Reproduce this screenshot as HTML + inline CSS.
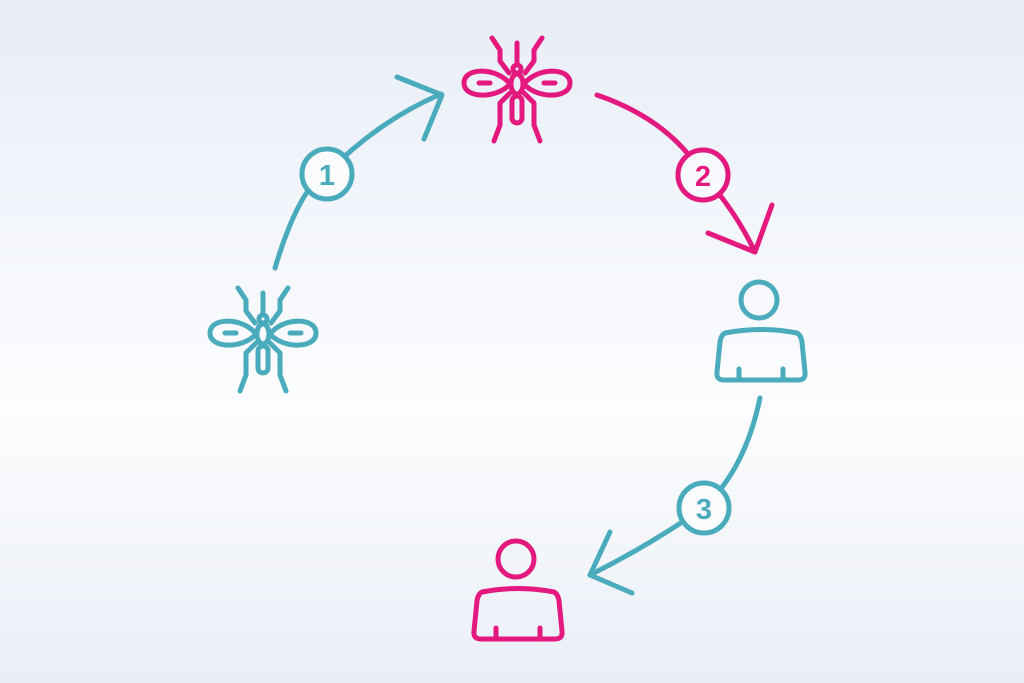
<!DOCTYPE html>
<html><head><style>
html,body{margin:0;padding:0}
body{width:1024px;height:683px;overflow:hidden;background:linear-gradient(#e8edf6 0%,#f7f9fd 45%,#fcfdfe 60%,#eaeef6 100%)}
svg{display:block}
text{font-family:"Liberation Sans",sans-serif;font-weight:bold;font-size:29px}
</style></head><body>
<svg width="1024" height="683" viewBox="0 0 1024 683">
<defs>
<g id="mq" fill="none" stroke-width="5" stroke-linecap="round" stroke-linejoin="round">
  <circle cx="0" cy="-14" r="4"/>
  <ellipse cx="0" cy="1" rx="6" ry="10"/>
  <rect x="-5" y="13" width="10" height="27" rx="5"/>
  <line x1="0" y1="-19" x2="0" y2="-40"/>
  <path d="M-7,1 C-20,-16 -53,-16 -53,0 C-53,16 -20,16 -7,1Z"/>
  <path d="M7,1 C20,-16 53,-16 53,0 C53,16 20,16 7,1Z"/>
  <line x1="-38" y1="0" x2="-27" y2="0"/>
  <line x1="27" y1="0" x2="38" y2="0"/>
  <path d="M-8,-10 L-17,-22 L-17,-33 L-25,-45"/>
  <path d="M8,-10 L17,-22 L17,-33 L25,-45"/>
  <path d="M-7,10 L-17,20 L-17,42 L-23,58"/>
  <path d="M7,10 L17,20 L17,42 L23,58"/>
  <g stroke="none"><circle cx="0" cy="20" r="2.2"/><circle cx="0" cy="27" r="2.2"/><circle cx="0" cy="34" r="2.2"/></g>
</g>
<g id="pp" fill="none" stroke-width="5" stroke-linecap="round" stroke-linejoin="round">
  <circle cx="-2" cy="-32" r="18"/>
  <path d="M-36,1 Q0,-6 36,1 Q40,3 41,10 L44,40 Q45,48 37,48 L-37,48 Q-45,48 -44,40 L-41,10 Q-40,3 -36,1 Z"/>
  <line x1="-22" y1="37" x2="-22" y2="48"/>
  <line x1="22" y1="37" x2="22" y2="48"/>
</g>
</defs>
<g stroke="#4aabbd" fill="#4aabbd"><use href="#mq" transform="translate(263,333)"/></g>
<g stroke="#e4197f" fill="#e4197f"><use href="#mq" transform="translate(517,83)"/></g>
<g stroke="#4aabbd"><use href="#pp" transform="translate(761,332)"/></g>
<g stroke="#e4197f"><use href="#pp" transform="translate(518,591)"/></g>

<g fill="none" stroke="#4aabbd" stroke-width="5" stroke-linecap="round" stroke-linejoin="round">
  <path d="M275,268 Q300,185 328,172 Q380,120 441,94"/>
  <path d="M397,77 L442,95 L424,139"/>
  <circle cx="327" cy="174" r="25" fill="#fafcfe"/>
  <path d="M760,398 Q745,470 703,508 Q650,545 590,575"/>
  <path d="M610,532 L590,575 L632,593"/>
  <circle cx="704" cy="508" r="25" fill="#fafcfe"/>
</g>
<g fill="none" stroke="#e4197f" stroke-width="5" stroke-linecap="round" stroke-linejoin="round">
  <path d="M597,95 Q670,120 703,175 Q735,210 755,252"/>
  <path d="M708,233 L755,252 L772,205"/>
  <circle cx="703" cy="175" r="25" fill="#f8fafd"/>
</g>
<text x="327" y="185" text-anchor="middle" fill="#4aabbd">1</text>
<text x="703" y="186" text-anchor="middle" fill="#e4197f">2</text>
<text x="704" y="519" text-anchor="middle" fill="#4aabbd">3</text>
</svg>
</body></html>
